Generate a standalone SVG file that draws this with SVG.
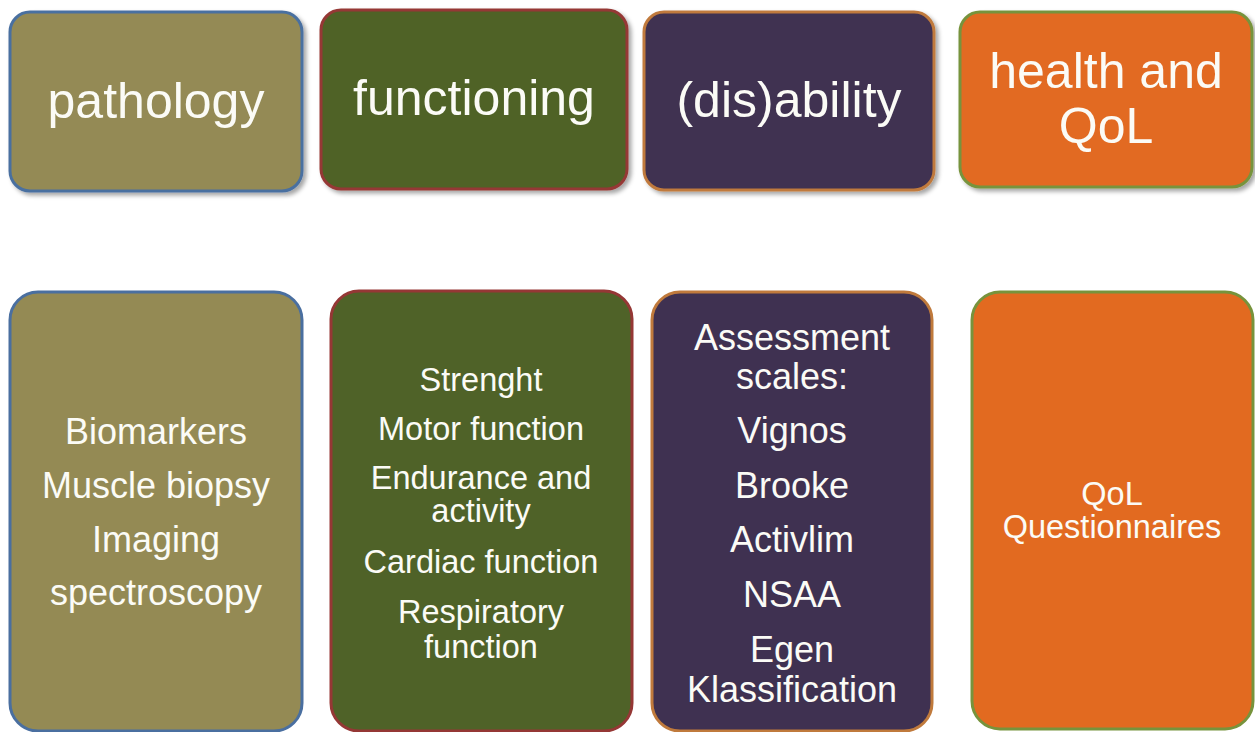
<svg xmlns="http://www.w3.org/2000/svg" width="1255" height="732" viewBox="0 0 1255 732">
  <style>
    .box { stroke-width: 3; }
    .olive { fill: #948A54; stroke: #4A6FA0; }
    .green { fill: #4F6228; stroke: #953735; }
    .purple { fill: #3F3151; stroke: #C07A3C; }
    .orange { fill: #E26A20; stroke: #77933C; }
    text { font-family: "Liberation Sans", Arial, sans-serif; fill: #FBFBF6; text-anchor: middle; }
    .head { font-size: 50px; }
    .big { font-size: 36px; }
    .mid { font-size: 32.5px; }
  </style>
  <defs>
    <filter id="shadow" x="-5%" y="-5%" width="115%" height="120%">
      <feDropShadow dx="3" dy="3" stdDeviation="2" flood-color="#000" flood-opacity="0.35"/>
    </filter>
  </defs>
  <rect width="1255" height="732" fill="#FFFFFF"/>

  <!-- header row -->
  <g id="pathology">
    <rect class="box olive" x="10" y="12" width="292" height="179" rx="20" filter="url(#shadow)"/>
    <text class="head" x="156" y="118">pathology</text>
  </g>
  <g id="functioning">
    <rect class="box green" x="321" y="10" width="306" height="179" rx="20" filter="url(#shadow)"/>
    <text class="head" x="474" y="115">functioning</text>
  </g>
  <g id="disability">
    <rect class="box purple" x="644" y="12" width="290" height="178" rx="20" filter="url(#shadow)"/>
    <text class="head" x="789" y="117">(dis)ability</text>
  </g>
  <g id="health-qol">
    <rect class="box orange" x="960" y="12" width="292" height="175" rx="20" filter="url(#shadow)"/>
    <text class="head" x="1106" y="88">health and</text>
    <text class="head" x="1106" y="143">QoL</text>
  </g>

  <!-- detail row -->
  <g id="pathology-measures">
    <rect class="box olive" x="10" y="292" width="292" height="439" rx="28"/>
    <text class="big" x="156" y="444">Biomarkers</text>
    <text class="big" x="156" y="498">Muscle biopsy</text>
    <text class="big" x="156" y="552">Imaging</text>
    <text class="big" x="156" y="605">spectroscopy</text>
  </g>
  <g id="functioning-measures">
    <rect class="box green" x="331" y="291" width="301" height="440" rx="28"/>
    <text class="mid" x="481" y="391">Strenght</text>
    <text class="mid" x="481" y="440">Motor function</text>
    <text class="mid" x="481" y="489">Endurance and</text>
    <text class="mid" x="481" y="522">activity</text>
    <text class="mid" x="481" y="573">Cardiac function</text>
    <text class="mid" x="481" y="623">Respiratory</text>
    <text class="mid" x="481" y="658">function</text>
  </g>
  <g id="disability-measures">
    <rect class="box purple" x="652" y="292" width="280" height="439" rx="28"/>
    <text class="big" x="792" y="350">Assessment</text>
    <text class="big" x="792" y="389">scales:</text>
    <text class="big" x="792" y="443">Vignos</text>
    <text class="big" x="792" y="498">Brooke</text>
    <text class="big" x="792" y="552">Activlim</text>
    <text class="big" x="792" y="607">NSAA</text>
    <text class="big" x="792" y="662">Egen</text>
    <text class="big" x="792" y="702">Klassification</text>
  </g>
  <g id="qol-measures">
    <rect class="box orange" x="972" y="292" width="281" height="437" rx="28"/>
    <text class="mid" x="1112" y="505">QoL</text>
    <text class="mid" x="1112" y="538">Questionnaires</text>
  </g>

  <!-- no connectors between the columns -->
  <g id="connectors"/>
</svg>
